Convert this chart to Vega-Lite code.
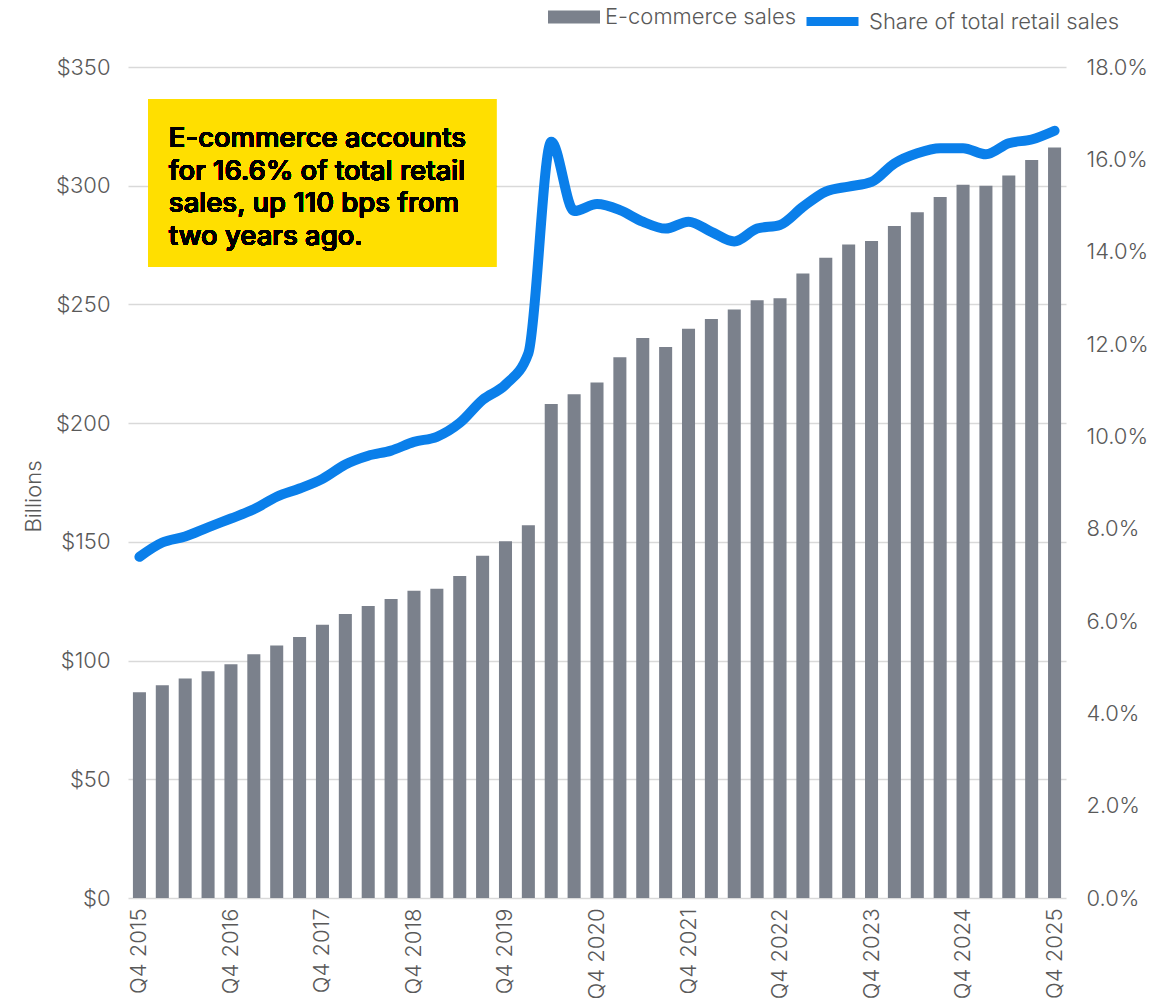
{
  "$schema": "https://vega.github.io/schema/vega-lite/v6.json",
  "width": 938,
  "height": 831,
  "autosize": {"type": "none"},
  "padding": {"left": 128, "top": 67, "right": 109, "bottom": 109},
  "background": "white",
  "config": {
    "view": {"stroke": null},
    "font": "Inter",
    "axis": {"labelColor": "#595959", "labelFontWeight": 300, "domain": false, "ticks": false}
  },
  "data": {
    "values": [
      {"q": "Q4 2015", "sales": 86.7, "share": 0.0739},
      {"q": "Q1 2016", "sales": 89.6, "share": 0.0770},
      {"q": "Q2 2016", "sales": 92.4, "share": 0.0783},
      {"q": "Q3 2016", "sales": 95.5, "share": 0.0803},
      {"q": "Q4 2016", "sales": 98.5, "share": 0.0822},
      {"q": "Q1 2017", "sales": 102.7, "share": 0.0842},
      {"q": "Q2 2017", "sales": 106.4, "share": 0.0869},
      {"q": "Q3 2017", "sales": 109.9, "share": 0.0887},
      {"q": "Q4 2017", "sales": 115.1, "share": 0.0908},
      {"q": "Q1 2018", "sales": 119.6, "share": 0.0939},
      {"q": "Q2 2018", "sales": 123.0, "share": 0.0958},
      {"q": "Q3 2018", "sales": 125.9, "share": 0.0969},
      {"q": "Q4 2018", "sales": 129.4, "share": 0.0988},
      {"q": "Q1 2019", "sales": 130.3, "share": 0.0999},
      {"q": "Q2 2019", "sales": 135.6, "share": 0.1029},
      {"q": "Q3 2019", "sales": 144.1, "share": 0.1079},
      {"q": "Q4 2019", "sales": 150.3, "share": 0.1112},
      {"q": "Q1 2020", "sales": 157.0, "share": 0.1180},
      {"q": "Q2 2020", "sales": 208.1, "share": 0.1638},
      {"q": "Q3 2020", "sales": 212.2, "share": 0.1488},
      {"q": "Q4 2020", "sales": 217.1, "share": 0.1503},
      {"q": "Q1 2021", "sales": 227.8, "share": 0.1490},
      {"q": "Q2 2021", "sales": 235.9, "share": 0.1465},
      {"q": "Q3 2021", "sales": 232.1, "share": 0.1450},
      {"q": "Q4 2021", "sales": 239.8, "share": 0.1465},
      {"q": "Q1 2022", "sales": 243.9, "share": 0.1443},
      {"q": "Q2 2022", "sales": 247.9, "share": 0.1422},
      {"q": "Q3 2022", "sales": 251.8, "share": 0.1450},
      {"q": "Q4 2022", "sales": 252.6, "share": 0.1458},
      {"q": "Q1 2023", "sales": 263.0, "share": 0.1497},
      {"q": "Q2 2023", "sales": 269.7, "share": 0.1530},
      {"q": "Q3 2023", "sales": 275.2, "share": 0.1541},
      {"q": "Q4 2023", "sales": 276.7, "share": 0.1551},
      {"q": "Q1 2024", "sales": 283.0, "share": 0.1591},
      {"q": "Q2 2024", "sales": 288.8, "share": 0.1613},
      {"q": "Q3 2024", "sales": 295.2, "share": 0.1624},
      {"q": "Q4 2024", "sales": 300.4, "share": 0.1624},
      {"q": "Q1 2025", "sales": 300.0, "share": 0.1611},
      {"q": "Q2 2025", "sales": 304.3, "share": 0.1635},
      {"q": "Q3 2025", "sales": 310.8, "share": 0.1643},
      {"q": "Q4 2025", "sales": 316.1, "share": 0.1662}
    ]
  },
  "layer": [
    {
      "layer": [
        {
          "mark": {"type": "bar"},
          "encoding": {
            "x": {
              "field": "q", "type": "ordinal", "sort": null,
              "scale": {
                "domain": ["Q4 2015","Q1 2016","Q2 2016","Q3 2016","Q4 2016","Q1 2017","Q2 2017","Q3 2017","Q4 2017","Q1 2018","Q2 2018","Q3 2018","Q4 2018","Q1 2019","Q2 2019","Q3 2019","Q4 2019","Q1 2020","Q2 2020","Q3 2020","Q4 2020","Q1 2021","Q2 2021","Q3 2021","Q4 2021","Q1 2022","Q2 2022","Q3 2022","Q4 2022","Q1 2023","Q2 2023","Q3 2023","Q4 2023","Q1 2024","Q2 2024","Q3 2024","Q4 2024","Q1 2025","Q2 2025","Q3 2025","Q4 2025"],
                "paddingInner": 0.43, "paddingOuter": 0.215
              },
              "axis": {
                "title": null, "labelAngle": -90, "labelPadding": 10, "labelFontSize": 22,
                "labelExpr": "indexof(datum.value, 'Q4') === 0 ? datum.value : ''",
                "grid": false
              }
            },
            "y": {
              "field": "sales", "type": "quantitative",
              "scale": {"domain": [0, 350], "nice": false},
              "axis": {
                "title": "Billions", "titleFontSize": 22, "titleFontWeight": 300, "titleColor": "#595959",
                "titleX": -95, "titleY": 429, "titleAngle": -90, "titleAlign": "center", "titleBaseline": "middle",
                "values": [0, 50, 100, 150, 200, 250, 300, 350], "format": "$.0f",
                "labelFontSize": 22, "labelPadding": 18,
                "grid": true, "gridColor": "#D9D9D9", "gridWidth": 1.5
              }
            },
            "fill": {
              "datum": "E-commerce sales",
              "scale": {"range": ["#7B818C"]},
              "legend": {
                "title": null, "orient": "none", "legendX": 420, "legendY": -76, "padding": 0,
                "symbolType": "M-1,-0.25H1V0.25H-1Z", "symbolSize": 2704, "symbolStrokeWidth": 0,
                "labelFontSize": 22, "labelColor": "#595959", "labelFontWeight": 300, "labelOffset": 5,
                "labelLimit": 500
              }
            }
          }
        },
        {
          "mark": {"type": "rect", "color": "#FFDF00"},
          "encoding": {
            "x": {"datum": "Q4 2015", "type": "ordinal", "bandPosition": 1.2},
            "x2": {"datum": "Q3 2019", "bandPosition": 1.53},
            "y": {"datum": 336.5, "type": "quantitative"},
            "y2": {"datum": 265.8}
          }
        },
        {
          "mark": {
            "type": "text", "align": "left", "baseline": "alphabetic", "fontSize": 27.5, "fontWeight": 500,
            "lineHeight": 32.5, "color": "#000000",
            "text": ["E-commerce accounts", "for 16.6% of total retail", "sales, up 110 bps from", "two years ago."]
          },
          "encoding": {
            "x": {"datum": "Q1 2016", "type": "ordinal", "bandPosition": 1},
            "y": {"datum": 316.3, "type": "quantitative"}
          }
        }
      ]
    },
    {
      "mark": {"type": "line", "interpolate": "monotone", "strokeWidth": 10, "strokeCap": "round", "strokeJoin": "round"},
      "encoding": {
        "x": {"field": "q", "type": "ordinal", "sort": null},
        "y": {
          "field": "share", "type": "quantitative",
          "scale": {"domain": [0, 0.18], "nice": false},
          "axis": {
            "orient": "right", "title": null, "grid": false,
            "values": [0, 0.02, 0.04, 0.06, 0.08, 0.1, 0.12, 0.14, 0.16, 0.18], "format": ".1%",
            "labelFontSize": 22, "labelPadding": 20
          }
        },
        "stroke": {
          "datum": "Share of total retail sales",
          "scale": {"range": ["#0A7FEA"]},
          "legend": {
            "title": null, "orient": "none", "legendX": 674, "legendY": -76, "padding": 0,
            "symbolType": "stroke", "symbolSize": 2704, "symbolStrokeWidth": 9,
            "labelFontSize": 22, "labelColor": "#595959", "labelFontWeight": 300, "labelOffset": 6,
            "labelLimit": 500
          }
        }
      }
    }
  ],
  "resolve": {"scale": {"y": "independent"}}
}
